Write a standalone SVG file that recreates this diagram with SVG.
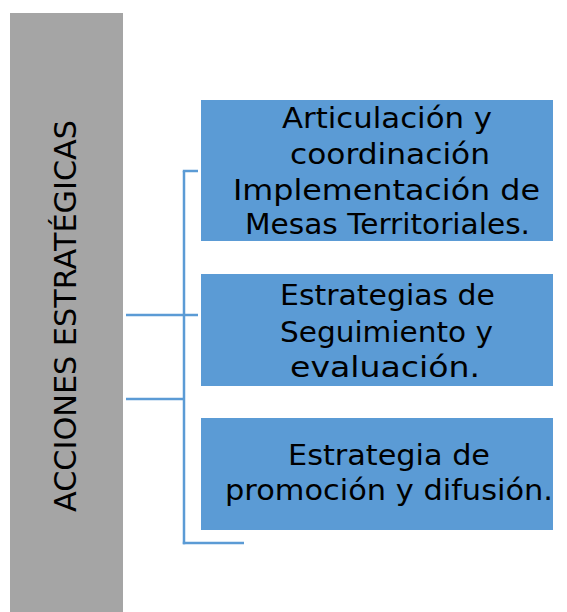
<svg xmlns="http://www.w3.org/2000/svg" width="567" height="612" viewBox="0 0 567 612">
<style>
.box{fill:#5B9BD5;}
.t{font-family:"DejaVu Sans","Liberation Sans",sans-serif;font-size:28px;fill:#000;text-anchor:middle;}
.conn line{stroke:#5B9BD5;stroke-width:2.5;}
</style>
<rect width="567" height="612" fill="#fff"/>
<g id="main">
<rect x="10" y="13" width="113" height="599" fill="#A5A5A5"/>
<text transform="translate(76,316) rotate(-90)" x="0" y="0" text-anchor="middle" font-family="DejaVu Sans,Liberation Sans,sans-serif" font-size="31" textLength="392" lengthAdjust="spacingAndGlyphs">ACCIONES ESTRATÉGICAS</text>
</g>
<g class="conn" id="connectors">
<line x1="184" y1="171" x2="184" y2="544.2"/>
<line x1="182.8" y1="171" x2="198" y2="171"/>
<line x1="126" y1="315" x2="198" y2="315"/>
<line x1="126" y1="399" x2="184" y2="399"/>
<line x1="182.8" y1="543" x2="244" y2="543"/>
</g>
<g id="node1">
<rect class="box" x="201" y="100" width="352" height="141"/>
<text class="t" x="387" y="128" textLength="210" lengthAdjust="spacingAndGlyphs">Articulación y</text>
<text class="t" x="390" y="164" textLength="200" lengthAdjust="spacingAndGlyphs">coordinación</text>
<text class="t" x="386.5" y="200" textLength="307" lengthAdjust="spacingAndGlyphs">Implementación de</text>
<text class="t" x="387.5" y="234" textLength="285" lengthAdjust="spacingAndGlyphs">Mesas Territoriales.</text>
</g>
<g id="node2">
<rect class="box" x="201" y="274" width="352" height="112"/>
<text class="t" x="387.5" y="305" textLength="215" lengthAdjust="spacingAndGlyphs">Estrategias de</text>
<text class="t" x="386.5" y="342" textLength="213" lengthAdjust="spacingAndGlyphs">Seguimiento y</text>
<text class="t" x="385" y="377" textLength="190" lengthAdjust="spacingAndGlyphs">evaluación.</text>
</g>
<g id="node3">
<rect class="box" x="201" y="418" width="352" height="112"/>
<text class="t" x="389" y="465" textLength="202" lengthAdjust="spacingAndGlyphs">Estrategia de</text>
<text class="t" x="389" y="500" textLength="328" lengthAdjust="spacingAndGlyphs">promoción y difusión.</text>
</g>
</svg>
